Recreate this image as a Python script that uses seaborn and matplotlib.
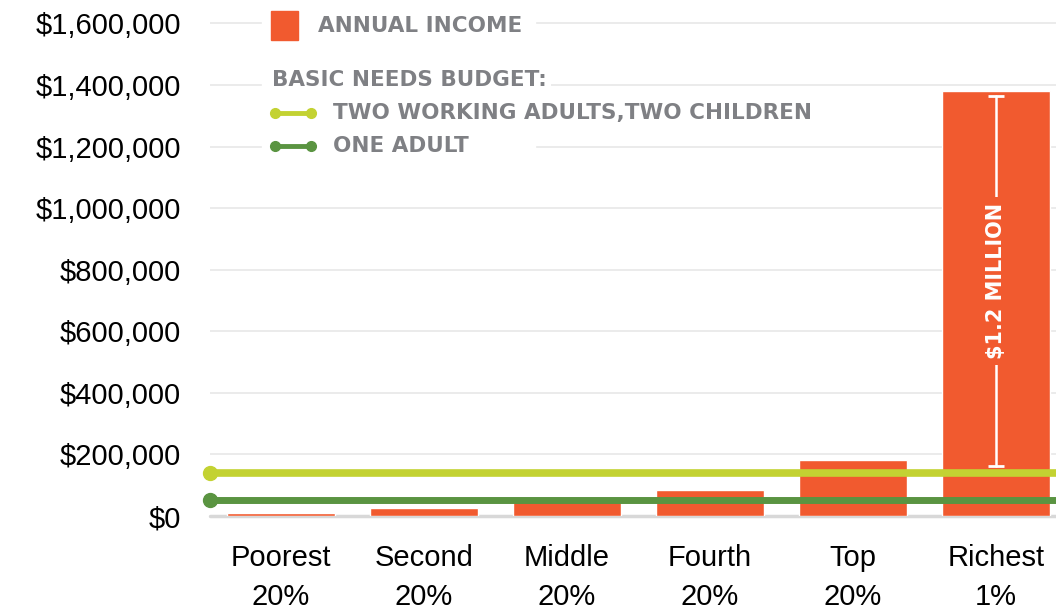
import matplotlib
matplotlib.use("Agg")
import matplotlib.pyplot as plt
from matplotlib.patches import Rectangle
from matplotlib.lines import Line2D
from matplotlib.ticker import FuncFormatter
import seaborn as sns
import pandas as pd

# data
groups = ["Poorest\n20%", "Second\n20%", "Middle\n20%", "Fourth\n20%", "Top\n20%", "Richest\n1%"]
income = [11000, 27000, 60000, 84000, 182000, 1380000]
two_adults_two_children = 140000
one_adult = 52000
gap_low, gap_high = 162000, 1365000
gap_label = "$1.2 MILLION"
y_ticks = [0, 200000, 400000, 600000, 800000, 1000000, 1200000, 1400000, 1600000]

orange = "#F15A2F"
lime = "#C3D232"
green = "#5A9441"
gray = "#7F8084"

sns.set_style("white")
plt.rcParams["font.family"] = ["Liberation Sans", "DejaVu Sans"]

W, H = 1056, 609
fig = plt.figure(figsize=(W / 100, H / 100), dpi=100)
ax = fig.add_axes([210 / W, 93 / H, 846 / W, 511 / H])

df = pd.DataFrame({"group": groups, "income": income})
sns.barplot(data=df, x="group", y="income", color=orange, width=0.755,
            saturation=1, ax=ax, zorder=2)

xmin, xmax = -0.497, 5.42
ax.set_xlim(xmin, xmax)
ax.set_ylim(0, 1660000)
ax.set_yticks(y_ticks)
ax.yaxis.set_major_formatter(FuncFormatter(lambda v, p: "${:,.0f}".format(v)))
ax.yaxis.grid(True, color="#e8e8e8", lw=1.2)
ax.set_axisbelow(True)
ax.axhline(0, color="#d8d8d8", lw=2.5, zorder=1.5, clip_on=False)
for s in ax.spines.values():
    s.set_visible(False)
ax.set_xlabel("")
ax.set_ylabel("")
ax.tick_params(axis="y", length=0, pad=21, labelsize=21, labelcolor="black")
ax.tick_params(axis="x", length=0, pad=20, labelsize=21, labelcolor="black")
for lab in ax.get_xticklabels():
    lab.set_linespacing(1.5)

# basic needs lines
for val, col, lw in [(two_adults_two_children, lime, 5.5), (one_adult, green, 5.0)]:
    ax.plot([xmin, xmax], [val, val], color=col, lw=lw, marker="o", markevery=[0],
            ms=10, clip_on=False, zorder=4, solid_capstyle="butt")

# $1.2 million bracket on the richest bar
ax.plot([5, 5], [gap_low, gap_high], color="white", lw=1.8, marker="_", ms=12,
        mew=2, zorder=3)
ax.text(5, (gap_low + gap_high) / 2, gap_label, rotation=90, ha="center", va="center",
        color="white", fontsize=15, fontweight="bold", family="DejaVu Sans", zorder=3.5,
        bbox=dict(facecolor=orange, edgecolor="none", pad=4))


# legend (figure pixel positions)
def fx(px):
    return px / W


def fy(py):
    return 1 - py / H


fig.add_artist(Rectangle((fx(262), fy(160)), (535 - 262) / W, (160 - 5) / H,
                         transform=fig.transFigure, color="white", zorder=3))
fig.add_artist(Rectangle((fx(271), fy(40)), 27 / W, 29 / H,
                         transform=fig.transFigure, color=orange, zorder=4))
leg_font = dict(color=gray, fontsize=15.5, fontweight="heavy", family="DejaVu Sans",
                va="center", ha="left", zorder=5)
fig.text(fx(318), fy(26), "ANNUAL INCOME", **leg_font)
fig.text(fx(272), fy(80), "BASIC NEEDS BUDGET:",
         bbox=dict(facecolor="white", edgecolor="none", pad=3), **leg_font)
for py, col, label in [(113, lime, "TWO WORKING ADULTS,TWO CHILDREN"), (146, green, "ONE ADULT")]:
    fig.add_artist(Line2D([fx(275), fx(311)], [fy(py), fy(py)], transform=fig.transFigure,
                          color=col, lw=3.5, marker="o", ms=7, zorder=5))
    fig.text(fx(333), fy(py), label,
             bbox=dict(facecolor="white", edgecolor="none", pad=3), **leg_font)

fig.savefig("out.png", dpi=100, facecolor="white")
